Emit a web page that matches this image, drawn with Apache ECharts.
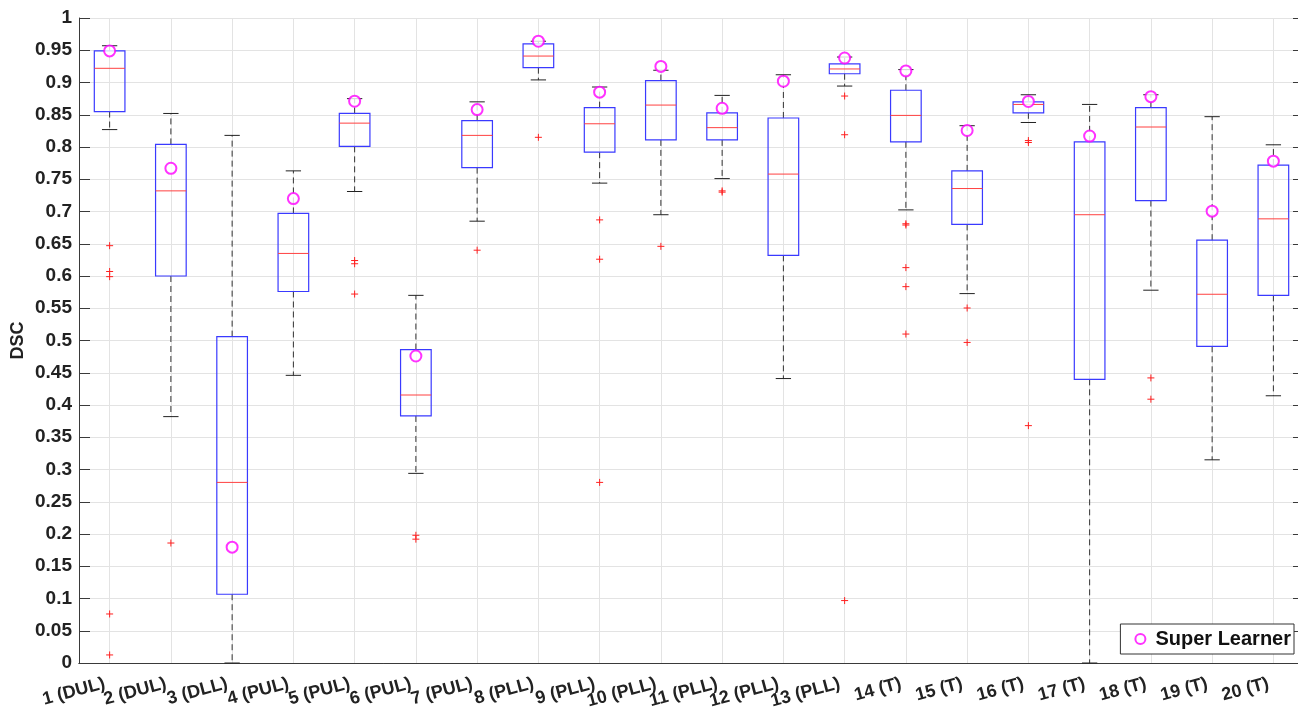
<!DOCTYPE html>
<html><head><meta charset="utf-8">
<script src="https://cdn.jsdelivr.net/npm/echarts@6/dist/echarts.min.js"></script>
<style>html,body{margin:0;padding:0;background:#fff}#c{width:1298px;height:709px}</style>
</head><body><div id="c"></div>
<script>
const categories = ['1 (DUL)', '2 (DUL)', '3 (DLL)', '4 (PUL)', '5 (PUL)', '6 (PUL)', '7 (PUL)', '8 (PLL)', '9 (PLL)', '10 (PLL)', '11 (PLL)', '12 (PLL)', '13 (PLL)', '14 (T)', '15 (T)', '16 (T)', '17 (T)', '18 (T)', '19 (T)', '20 (T)'];
const whiskerLow = [0.827, 0.382, 0, 0.446, 0.731, 0.294, 0.685, 0.904, 0.744, 0.695, 0.751, 0.441, 0.8945, 0.7025, 0.5727, 0.838, 0, 0.578, 0.315, 0.4143];
const q1 = [0.855, 0.600, 0.1066, 0.576, 0.801, 0.383, 0.768, 0.923, 0.792, 0.811, 0.811, 0.632, 0.9136, 0.808, 0.680, 0.853, 0.4398, 0.717, 0.491, 0.570];
const median = [0.922, 0.732, 0.280, 0.635, 0.837, 0.4155, 0.818, 0.941, 0.836, 0.865, 0.830, 0.758, 0.921, 0.849, 0.7356, 0.866, 0.695, 0.831, 0.5717, 0.6886];
const q3 = [0.949, 0.804, 0.506, 0.697, 0.852, 0.486, 0.841, 0.960, 0.861, 0.903, 0.853, 0.845, 0.929, 0.888, 0.763, 0.870, 0.808, 0.861, 0.6555, 0.772];
const whiskerHigh = [0.957, 0.852, 0.818, 0.763, 0.875, 0.570, 0.870, 0.964, 0.893, 0.919, 0.880, 0.912, 0.9395, 0.920, 0.833, 0.881, 0.866, 0.881, 0.847, 0.8034];
const outliers = [[0,0.647],[0,0.607],[0,0.599],[0,0.076],[0,0.0125],[1,0.186],[4,0.624],[4,0.619],[4,0.572],[5,0.198],[5,0.192],[6,0.640],[7,0.815],[8,0.687],[8,0.626],[8,0.280],[9,0.646],[10,0.732],[10,0.730],[12,0.879],[12,0.819],[12,0.0968],[13,0.681],[13,0.679],[13,0.613],[13,0.5835],[13,0.510],[14,0.5504],[14,0.497],[15,0.810],[15,0.807],[15,0.368],[17,0.442],[17,0.409]];
const superLearner = [0.949, 0.767, 0.1796, 0.720, 0.871, 0.476, 0.858, 0.964, 0.885, 0.925, 0.860, 0.902, 0.938, 0.918, 0.8256, 0.8706, 0.817, 0.878, 0.7005, 0.778];

const FONT = 'Liberation Sans, Arial, Helvetica, sans-serif';
const AXIS_COLOR = '#3a3a3a';
const GRID_COLOR = '#e3e3e3';

const boxData = categories.map((c, i) => [i, whiskerLow[i], q1[i], median[i], q3[i], whiskerHigh[i]]);

function renderBox(params, api) {
  const x = api.value(0);
  const lo = api.coord([x, api.value(1)]);
  const b = api.coord([x, api.value(2)]);
  const m = api.coord([x, api.value(3)]);
  const t = api.coord([x, api.value(4)]);
  const hi = api.coord([x, api.value(5)]);
  const band = api.size([1, 0])[0];
  const hw = band * 0.25, cw = band * 0.125;
  const cx = m[0];
  const dash = {stroke: '#333', lineWidth: 1, lineDash: [6, 4]};
  const solid = {stroke: '#222', lineWidth: 1};
  return {type: 'group', children: [
    {type: 'line', shape: {x1: cx, y1: t[1], x2: cx, y2: hi[1]}, style: dash},
    {type: 'line', shape: {x1: cx, y1: b[1], x2: cx, y2: lo[1]}, style: dash},
    {type: 'line', shape: {x1: cx - cw, y1: hi[1], x2: cx + cw, y2: hi[1]}, style: solid},
    {type: 'line', shape: {x1: cx - cw, y1: lo[1], x2: cx + cw, y2: lo[1]}, style: solid},
    {type: 'rect', shape: {x: cx - hw, y: t[1], width: 2 * hw, height: b[1] - t[1]}, style: {fill: 'none', stroke: '#3a3aff', lineWidth: 1.2}},
    {type: 'line', shape: {x1: cx - hw, y1: m[1], x2: cx + hw, y2: m[1]}, style: {stroke: '#ff4040', lineWidth: 1}}
  ]};
}

function renderPlus(params, api) {
  const p = api.coord([api.value(0), api.value(1)]);
  const s = 3.5;
  return {type: 'group', children: [
    {type: 'line', shape: {x1: p[0] - s, y1: p[1], x2: p[0] + s, y2: p[1]}, style: {stroke: '#ff2020', lineWidth: 1}},
    {type: 'line', shape: {x1: p[0], y1: p[1] - s, x2: p[0], y2: p[1] + s}, style: {stroke: '#ff2020', lineWidth: 1}}
  ]};
}

const chart = echarts.init(document.getElementById('c'), null, {renderer: 'canvas'});
chart.setOption({
  animation: false,
  backgroundColor: '#fff',
  grid: {left: 79, top: 18, right: -6, bottom: 46, containLabel: false, outerBoundsMode: 'none'},
  legend: {
    data: ['Super Learner'],
    right: 4, bottom: 55,
    itemWidth: 20, itemHeight: 10,
    padding: [5, 3, 5, 14],
    backgroundColor: '#fff',
    borderColor: '#333', borderWidth: 1,
    itemStyle: {borderWidth: 2},
    textStyle: {fontFamily: FONT, fontWeight: 'bold', fontSize: 20, color: '#111'}
  },
  xAxis: [{
    type: 'category', data: categories, position: 'bottom', boundaryGap: true,
    axisLine: {lineStyle: {color: AXIS_COLOR, width: 1}},
    axisTick: {inside: true, length: 11, alignWithLabel: true, lineStyle: {color: AXIS_COLOR}},
    axisLabel: {rotate: 15, margin: 19, padding: [0, 5, 0, 0], fontFamily: FONT, fontWeight: 'bold', fontSize: 18, color: '#222', interval: 0, hideOverlap: false},
    splitLine: {show: true, alignWithLabel: true, lineStyle: {color: GRID_COLOR, width: 1}}
  }, {
    type: 'category', data: categories, position: 'top', boundaryGap: true,
    axisLine: {lineStyle: {color: AXIS_COLOR, width: 1}},
    axisTick: {inside: true, length: 11, alignWithLabel: true, lineStyle: {color: AXIS_COLOR}},
    axisLabel: {show: false}, splitLine: {show: false}
  }],
  yAxis: [{
    type: 'value', min: 0, max: 1, interval: 0.05, position: 'left',
    name: 'DSC', nameLocation: 'middle', nameGap: 52, nameMoveOverlap: false,
    nameTextStyle: {fontFamily: FONT, fontWeight: 'bold', fontSize: 18, color: '#222'},
    axisLine: {show: true, lineStyle: {color: AXIS_COLOR, width: 1}},
    axisTick: {show: true, inside: true, length: 11, lineStyle: {color: AXIS_COLOR}},
    axisLabel: {margin: 7, fontFamily: FONT, fontWeight: 'bold', fontSize: 19, color: '#222'},
    splitLine: {show: true, lineStyle: {color: GRID_COLOR, width: 1}}
  }, {
    type: 'value', min: 0, max: 1, interval: 0.05, position: 'right',
    axisLine: {show: true, lineStyle: {color: AXIS_COLOR, width: 1}},
    axisTick: {show: true, inside: true, length: 11, lineStyle: {color: AXIS_COLOR}},
    axisLabel: {show: false}, splitLine: {show: false}
  }],
  series: [{
    name: 'boxes', type: 'custom', renderItem: renderBox, data: boxData,
    encode: {x: 0, y: [1, 2, 3, 4, 5]}, z: 2
  }, {
    name: 'outliers', type: 'custom', renderItem: renderPlus, data: outliers,
    encode: {x: 0, y: 1}, z: 3
  }, {
    name: 'Super Learner', type: 'scatter', data: superLearner.map((v, i) => [i, v]),
    symbol: 'emptyCircle', symbolSize: 11,
    itemStyle: {color: '#ff00ff', borderColor: '#ff00ff', borderWidth: 2.5},
    z: 5
  }]
});
</script>
</body></html>
